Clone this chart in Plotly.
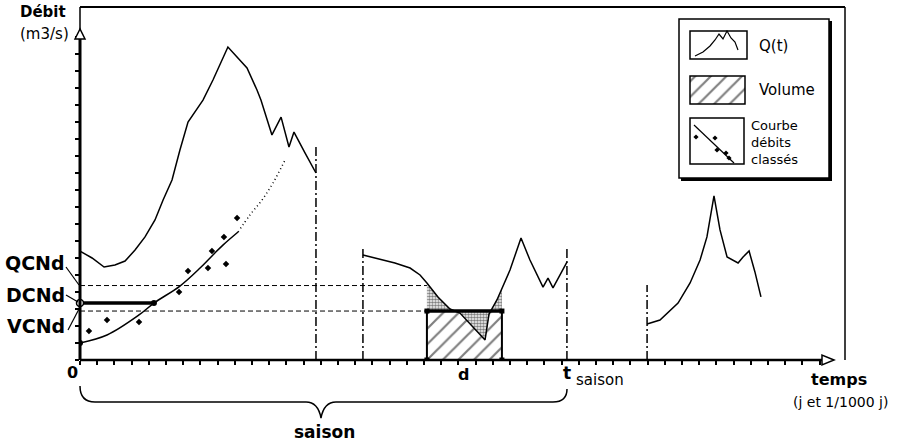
import numpy as np
import plotly.graph_objects as go

# ---------------- data (time units, discharge units) ----------------
# Hydrograph Q(t), three observed periods
q1_t = [0.0, 0.70, 1.40, 2.03, 2.62, 3.20, 3.78, 4.36, 4.83, 5.35, 5.81, 6.28, 7.15, 7.73,
        8.60, 9.71, 10.29, 10.52, 11.16, 11.69, 12.15, 12.44, 13.08, 13.72]
q1_q = [6.41, 6.00, 5.47, 5.59, 5.82, 6.47, 7.24, 8.24, 9.41, 10.59, 12.35, 14.00, 15.29, 16.47,
        18.41, 17.18, 15.88, 15.29, 13.24, 14.29, 12.53, 13.41, 12.18, 11.00]
q2_t = [16.45, 17.44, 18.31, 19.19, 19.77, 20.17, 20.81, 21.51, 22.09, 23.55, 23.78, 24.24,
        24.53, 25.00, 25.64, 26.16, 26.92, 27.21, 27.50, 28.31]
q2_q = [6.18, 5.94, 5.71, 5.41, 5.00, 4.53, 3.71, 3.00, 2.76, 1.18, 2.71, 3.53,
        4.24, 5.29, 7.18, 5.88, 4.29, 4.82, 4.24, 5.76]
q3_t = [32.97, 33.72, 34.77, 35.47, 36.05, 36.45, 36.86, 37.21, 37.62, 38.26, 38.55, 38.90, 39.24, 39.59]
q3_q = [2.12, 2.35, 3.35, 4.53, 5.88, 7.24, 9.65, 7.65, 6.06, 5.71, 6.06, 6.41, 5.18, 3.71]

# Season / period boundaries (dash-dot)
bound_t = [13.72, 16.45, 28.31, 32.97]
bound_top = [12.53, 6.65, 6.65, 4.41]

# Thresholds
QCNd = 4.38
DCNd = 3.35
VCNd = 2.88

# Duration window d
d_start, d_end = 20.17, 24.53

# Flow-duration curve (fitted) and classified observations
fdc_t = [0.0, 1.57, 3.43, 4.30, 5.81, 6.98, 7.73, 8.31, 9.19]
fdc_q = [1.00, 1.47, 2.65, 3.35, 4.35, 5.41, 6.18, 6.76, 7.53]
fdc_ext_t = [9.19, 9.88, 10.58, 11.22, 11.92]
fdc_ext_q = [7.53, 8.53, 9.41, 10.41, 11.76]
obs_t = [0.52, 1.57, 3.43, 5.76, 6.28, 7.44, 7.67, 8.49, 8.37, 9.13]
obs_q = [1.71, 2.35, 2.24, 4.00, 5.24, 5.41, 6.41, 5.65, 7.24, 8.35]

# ---------------- geometry helpers (pixels -> coords) ----------------
L, T, R, B = 80, 7, 845, 360
SX, SY = 17.2, 17.0
X_MAX = (R - L) / SX
Y_MAX = (B - T) / SY

def xd(px): return (px - L) / SX
def yd(py): return (B - py) / SY
def xp(px): return (px - L) / (R - L)
def yp(py): return (B - py) / (B - T)

def ppath(pts, close=False):
    s = "M " + " L ".join(f"{xp(x):.5f},{yp(y):.5f}" for x, y in pts)
    return s + (" Z" if close else "")

BLACK = "black"
fig = go.Figure()

def line(x, y, width=1.5, dash=None, shape="linear"):
    fig.add_trace(go.Scatter(x=x, y=y, mode="lines", hoverinfo="skip", showlegend=False,
                             line=dict(color=BLACK, width=width, dash=dash, shape=shape)))

HATCH = dict(shape="/", size=11, solidity=0.2, fgcolor=BLACK, bgcolor="white")
STIPPLE = dict(shape=".", size=3, solidity=0.6, fgcolor=BLACK, bgcolor="white")

# ---- volume rectangle (hatched) ----
fig.add_trace(go.Scatter(x=[d_start, d_end, d_end, d_start, d_start], y=[0, 0, VCNd, VCNd, 0],
                         mode="lines", fill="toself", hoverinfo="skip", showlegend=False,
                         line=dict(width=0, color=BLACK), fillcolor="white", fillpattern=HATCH))

# ---- stippled areas between Q(t) and VCNd within window ----
ts = np.linspace(d_start, d_end, 500)
qs = np.interp(ts, q2_t, q2_q)
for fn in (np.maximum, np.minimum):
    yy = fn(qs, VCNd)
    fig.add_trace(go.Scatter(x=np.concatenate([ts, ts[::-1]]),
                             y=np.concatenate([yy, np.full_like(ts, VCNd)]),
                             mode="lines", fill="toself", hoverinfo="skip", showlegend=False,
                             line=dict(width=0, color=BLACK), fillcolor="white", fillpattern=STIPPLE))

# rectangle edges
line([d_start, d_start, d_end, d_end], [VCNd, 0, 0, VCNd], width=2)
line([d_start, d_end], [VCNd, VCNd], width=3.5)
fig.add_trace(go.Scatter(x=[d_start, d_end, d_start, d_end], y=[0, 0, VCNd, VCNd], mode="markers",
                         hoverinfo="skip", showlegend=False,
                         marker=dict(symbol="square", size=5, color=BLACK)))

# thresholds
line([0, d_start], [QCNd, QCNd], width=1, dash="5px,3px")
line([0, d_start], [VCNd, VCNd], width=1, dash="5px,3px")
line([0, fdc_t[3]], [DCNd, DCNd], width=3.5)

# boundaries
for bt, btop in zip(bound_t, bound_top):
    line([bt, bt], [0, btop], width=1.5, dash="9px,3px,2px,3px")

# hydrograph
line(q1_t, q1_q)
line(q2_t, q2_q)
line(q3_t, q3_q)

# flow-duration curve
line(fdc_t, fdc_q, width=1.5, shape="spline")
line(fdc_ext_t, fdc_ext_q, width=1.5, dash="1px,3px", shape="spline")
fig.add_trace(go.Scatter(x=obs_t, y=obs_q, mode="markers", hoverinfo="skip", showlegend=False,
                         marker=dict(symbol="diamond", size=5, color=BLACK)))
fig.add_trace(go.Scatter(x=[fdc_t[0], fdc_t[3]], y=[fdc_q[0], DCNd], mode="markers", hoverinfo="skip",
                         showlegend=False, marker=dict(symbol="circle", size=6, color=BLACK)))
fig.add_trace(go.Scatter(x=[0], y=[DCNd], mode="markers", hoverinfo="skip", showlegend=False,
                         cliponaxis=False,
                         marker=dict(symbol="circle", size=7, color="white", line=dict(color=BLACK, width=1.5))))

# ---- legend icons (traces drawn at legend position) ----
fig.add_trace(go.Scatter(x=[xd(690), xd(745), xd(745), xd(690), xd(690)],
                         y=[yd(104), yd(104), yd(76), yd(76), yd(104)],
                         mode="lines", fill="toself", hoverinfo="skip", showlegend=False,
                         line=dict(width=0, color=BLACK), fillcolor="white", fillpattern=HATCH))
ic_px = [(696, 137), (715, 138), (717, 150), (726, 153), (729, 158)]
fig.add_trace(go.Scatter(x=[xd(a) for a, b in ic_px], y=[yd(b) for a, b in ic_px], mode="markers",
                         hoverinfo="skip", showlegend=False,
                         marker=dict(symbol="diamond", size=4, color=BLACK)))

# ---------------- shapes ----------------
shapes = []
def sh_line(p0, p1, w=1.5, layer="above"):
    shapes.append(dict(type="line", xref="paper", yref="paper", x0=xp(p0[0]), y0=yp(p0[1]),
                       x1=xp(p1[0]), y1=yp(p1[1]), line=dict(color=BLACK, width=w), layer=layer))
def sh_rect(p0, p1, w=1.5, fill="rgba(0,0,0,0)", layer="above"):
    shapes.append(dict(type="rect", xref="paper", yref="paper", x0=xp(p0[0]), y0=yp(p0[1]),
                       x1=xp(p1[0]), y1=yp(p1[1]), line=dict(color=BLACK, width=w),
                       fillcolor=fill, layer=layer))
def sh_path(pathstr, w=1.5, fill="rgba(0,0,0,0)", layer="above"):
    shapes.append(dict(type="path", xref="paper", yref="paper", path=pathstr,
                       line=dict(color=BLACK, width=w), fillcolor=fill, layer=layer))

# frame and axes
sh_line((L, T), (R, T), 2)
sh_line((R, T), (R, B), 1.5)
sh_line((L, T), (L, 30), 1.5)
sh_line((L, 38), (L, B), 3)
sh_line((L, B), (823, B), 2.5)
sh_path(ppath([(L, 29), (L - 5, 39), (L + 5, 39)], True), 1.5, "white")
sh_path(ppath([(834, B), (822, B - 5), (822, B + 5)], True), 1.5, "white")

# leaders of threshold labels
sh_line((66, 267), (79, 285), 1.2)
sh_line((66, 295), (78, 302), 1.2)
sh_line((68, 330), (79, 309), 1.2)

# bracket "saison"
br = (f"M {xp(80)},{yp(386)} Q {xp(80)},{yp(402)} {xp(95)},{yp(402)} "
      f"L {xp(306)},{yp(402)} Q {xp(318)},{yp(402)} {xp(321)},{yp(418)} "
      f"Q {xp(324)},{yp(402)} {xp(336)},{yp(402)} L {xp(553)},{yp(402)} "
      f"Q {xp(567)},{yp(402)} {xp(567)},{yp(389)}")
sh_path(br, 1.5)

# legend box with shadow
sh_rect((681, 21), (832, 181), 0, BLACK, layer="below")
sh_rect((679, 19), (829, 178), 1.5, "white", layer="below")
sh_rect((690, 31), (747, 59), 1.5)
sh_rect((690, 76), (745, 104), 1.5)
sh_rect((690, 118), (744, 164), 1.5)
sh_path(ppath([(695, 56), (703, 52), (710, 46), (715, 40), (719, 34), (723, 39), (727, 31),
               (731, 38), (735, 42), (738, 50)]), 1.2)
sh_line((694, 125), (734, 163), 1.2)

# ---------------- annotations ----------------
ann = []
def text(s, x, y, size, xanchor="center", bold=False, align="center"):
    ann.append(dict(text=(f"<b>{s}</b>" if bold else s), xref="paper", yref="paper",
                    x=xp(x), y=yp(y), xanchor=xanchor, yanchor="middle", showarrow=False,
                    align=align, font=dict(family="DejaVu Sans", size=size, color=BLACK)))

text("Débit", 43, 12, 15, bold=True)
text("(m3/s)", 44, 34, 15)
text("QCNd", 35, 263, 19, bold=True)
text("DCNd", 35, 295, 19, bold=True)
text("VCNd", 36, 326, 19, bold=True)
text("0", 72, 372, 16, bold=True)
text("d", 463, 374, 16, bold=True)
text("t", 567, 373, 17, bold=True)
text("saison", 600, 380, 15)
text("saison", 324, 432, 17, bold=True)
text("temps", 839, 379, 16, bold=True)
text("(j et 1/1000 j)", 840, 402, 14)
text("Q(t)", 757, 46, 15, xanchor="left")
text("Volume", 757, 90, 15, xanchor="left")
text("Courbe<br>débits<br>classés", 749, 142, 13, xanchor="left", align="left")

fig.update_layout(
    width=899, height=442,
    margin=dict(l=L, r=899 - R, t=T, b=442 - B),
    paper_bgcolor="white", plot_bgcolor="white",
    shapes=shapes, annotations=ann, showlegend=False,
    xaxis=dict(range=[0, X_MAX], showgrid=False, zeroline=False, showline=False,
               tickvals=list(range(0, 44)), ticks="outside", ticklen=4, tickwidth=1.5,
               tickcolor=BLACK, showticklabels=False, fixedrange=True),
    yaxis=dict(range=[0, Y_MAX], showgrid=False, zeroline=False, showline=False,
               tickvals=list(range(0, 20)), ticks="outside", ticklen=4, tickwidth=1.5,
               tickcolor=BLACK, showticklabels=False, fixedrange=True),
)

fig.write_html("out.html", config={"displayModeBar": False},
               post_script="document.body.style.margin='0px';")
